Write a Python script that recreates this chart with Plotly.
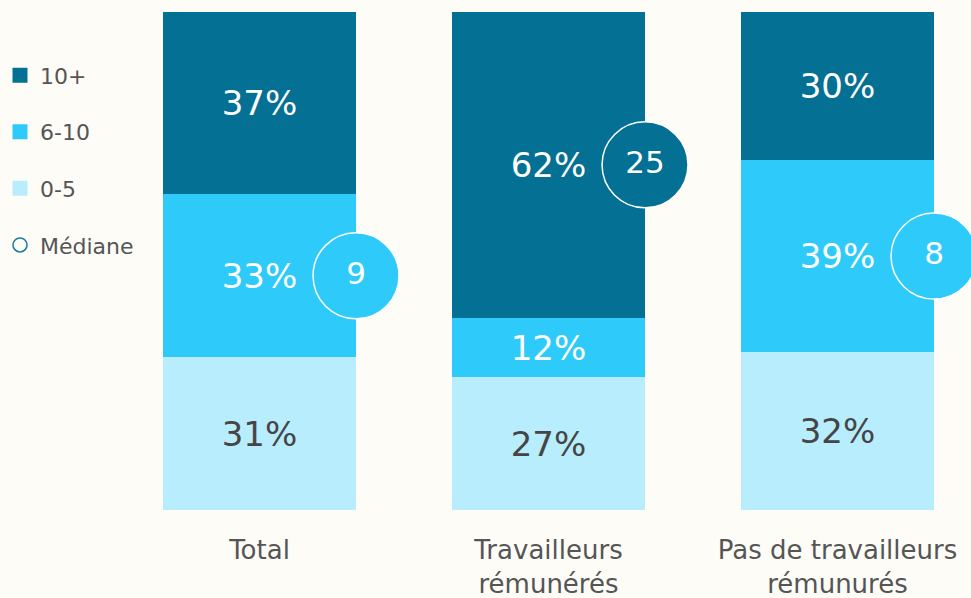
import plotly.graph_objects as go

categories = ["Total", "Travailleurs<br>rémunérés", "Pas de travailleurs<br>rémunurés"]
series_names = ["0-5", "6-10", "10+"]
v_0_5 = [31, 27, 32]
v_6_10 = [33, 12, 39]
v_10p = [37, 62, 30]
medians = [9, 25, 8]
median_segment = ["6-10", "10+", "6-10"]

colors = {"10+": "#047093", "6-10": "#2ECBFA", "0-5": "#B8EDFD"}
text_colors = {"10+": "white", "6-10": "white", "0-5": "#454545"}
values = {"0-5": v_0_5, "6-10": v_6_10, "10+": v_10p}

BG = "#FDFCF7"
FONT = "DejaVu Sans"
bar_w = 0.668
xs = list(range(len(categories)))

fig = go.Figure()
for name in series_names:
    fig.add_trace(go.Bar(
        x=xs, y=values[name], name=name, width=bar_w,
        marker=dict(color=colors[name], line=dict(width=0)),
        texttemplate="%{y}%", textposition="inside", insidetextanchor="middle",
        textfont=dict(size=34, color=text_colors[name], family=FONT),
        constraintext="none", showlegend=False, hoverinfo="skip"))

# median bubbles at right edge of the bar, in the middle of the segment holding the median
bx, by, bc = [], [], []
for i in xs:
    seg = median_segment[i]
    base = 0
    for name in series_names:
        if name == seg:
            by.append(base + values[name][i] / 2)
            break
        base += values[name][i]
    bx.append(i + bar_w / 2)
    bc.append(colors[seg])
fig.add_trace(go.Scatter(
    x=bx, y=by, mode="markers+text", text=[str(m) for m in medians],
    textposition="middle center",
    textfont=dict(size=31, color="white", family=FONT),
    marker=dict(size=86, color=bc, line=dict(color="white", width=1.5)),
    cliponaxis=False, showlegend=False, hoverinfo="skip"))

# legend entries
for rank, name in enumerate(["10+", "6-10", "0-5"]):
    fig.add_trace(go.Scatter(
        x=[None], y=[None], mode="markers", name=name, legendgroup=name,
        legendrank=rank + 1,
        marker=dict(symbol="square", size=15, color=colors[name])))
fig.add_trace(go.Scatter(
    x=[None], y=[None], mode="markers", name="Médiane", legendgroup="med",
    legendrank=4,
    marker=dict(symbol="circle-open", size=14, color="#1A7F9F", line=dict(width=1.6))))

fig.update_layout(
    width=971, height=598,
    barmode="stack", bargap=0,
    paper_bgcolor=BG, plot_bgcolor=BG,
    margin=dict(l=0, r=0, t=12, b=88),
    font=dict(family=FONT, color="#555555"),
    legend=dict(x=0.0, y=0.915, xanchor="left", yanchor="top",
                font=dict(size=22, color="#555555", family=FONT),
                tracegroupgap=25, itemsizing="trace",
                bgcolor="rgba(0,0,0,0)"),
    xaxis=dict(range=[-0.898, 2.462], tickvals=xs, ticktext=categories,
               showgrid=False, zeroline=False, showline=False, ticks="",
               ticklabelstandoff=22,
               tickfont=dict(size=26, color="#555555", family=FONT),
               fixedrange=True),
    yaxis=dict(range=[0, 101], visible=False, fixedrange=True),
)

fig.write_html(
    "out.html",
    config={"displayModeBar": False},
    post_script="document.body.style.margin='0';document.body.style.overflow='hidden';"
                "document.body.style.background='" + BG + "';",
)
